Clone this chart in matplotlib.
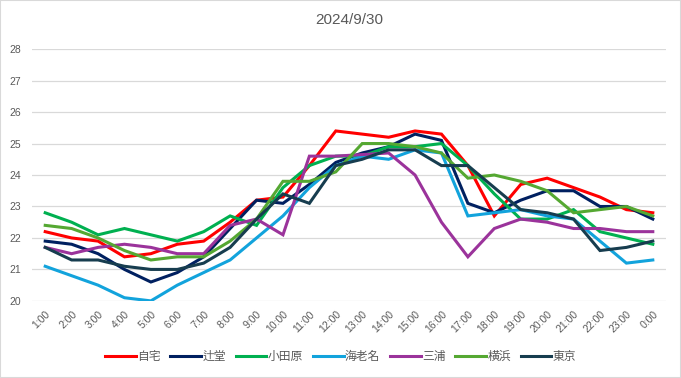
import matplotlib
matplotlib.use("Agg")
import matplotlib.pyplot as plt

plt.rcParams['font.family'] = ['Liberation Sans', 'Noto Sans CJK JP', 'DejaVu Sans']

hours = [f"{h}:00" for h in range(1, 24)] + ["0:00"]

jitaku   = [22.2, 22.0, 21.9, 21.4, 21.5, 21.8, 21.9, 22.5, 23.2, 23.3, 24.3, 25.4,
            25.3, 25.2, 25.4, 25.3, 24.3, 22.7, 23.7, 23.9, 23.6, 23.3, 22.9, 22.8]
tsujido  = [21.9, 21.8, 21.5, 21.0, 20.6, 20.9, 21.4, 22.3, 23.2, 23.1, 23.7, 24.4,
            24.7, 24.9, 25.3, 25.1, 23.1, 22.8, 23.2, 23.5, 23.5, 23.0, 23.0, 22.6]
odawara  = [22.8, 22.5, 22.1, 22.3, 22.1, 21.9, 22.2, 22.7, 22.4, 23.6, 24.3, 24.6,
            24.6, 24.9, 24.9, 25.0, 24.3, 23.4, 22.6, 22.6, 22.9, 22.2, 22.0, 21.8]
ebina    = [21.1, 20.8, 20.5, 20.1, 20.0, 20.5, 20.9, 21.3, 22.0, 22.7, 23.6, 24.3,
            24.6, 24.5, 24.8, 24.7, 22.7, 22.8, 22.9, 22.7, 22.6, 21.9, 21.2, 21.3]
miura    = [21.7, 21.5, 21.7, 21.8, 21.7, 21.5, 21.5, 22.4, 22.6, 22.1, 24.6, 24.6,
            24.65, 24.7, 24.0, 22.5, 21.4, 22.3, 22.6, 22.5, 22.3, 22.3, 22.2, 22.2]
yokohama = [22.4, 22.3, 22.0, 21.6, 21.3, 21.4, 21.4, 21.9, 22.6, 23.8, 23.8, 24.1,
            25.0, 25.0, 24.9, 24.7, 23.9, 24.0, 23.8, 23.5, 22.8, 22.9, 23.0, 22.7]
tokyo    = [21.7, 21.3, 21.3, 21.1, 21.0, 21.0, 21.2, 21.7, 22.6, 23.4, 23.1, 24.3,
            24.5, 24.8, 24.8, 24.3, 24.3, 23.6, 22.9, 22.8, 22.6, 21.6, 21.7, 21.9]

series = [
    ("自宅", jitaku, "#FF0000"),
    ("辻堂", tsujido, "#002060"),
    ("小田原", odawara, "#00B050"),
    ("海老名", ebina, "#12A3DC"),
    ("三浦", miura, "#9B339B"),
    ("横浜", yokohama, "#55A832"),
    ("東京", tokyo, "#173D4F"),
]

fig = plt.figure(figsize=(6.81, 3.78), dpi=100)
ax = fig.add_axes([0.047, 0.204, 0.931, 0.666])

x = list(range(len(hours)))
for name, vals, col in series:
    ax.plot(x, vals, color=col, linewidth=2.2, label=name, solid_joinstyle='miter')

ax.set_xlim(-0.5, len(hours) - 0.5)
ax.set_ylim(20, 28)
ax.set_yticks(range(20, 29))
ax.set_xticks(x)
ax.set_xticklabels(hours, rotation=45, ha='right', rotation_mode='anchor')
ax.grid(axis='y', color='#D9D9D9', linewidth=0.9)
ax.set_axisbelow(True)
for s in ax.spines.values():
    s.set_visible(False)
ax.tick_params(axis='both', length=0, labelsize=7.5, colors='#595959')
ax.tick_params(axis='x', pad=6)
ax.tick_params(axis='y', pad=8)

ax.set_title("2024/9/30", fontsize=11, color='#595959', pad=18)

fig.legend(loc='center', bbox_to_anchor=(0.5, 0.055), ncol=7, frameon=False,
           fontsize=8.5, handlelength=2.6, handletextpad=0.1, columnspacing=0.85,
           labelcolor='#595959')

fig.patches.append(plt.Rectangle((0, 0), 1, 1, transform=fig.transFigure,
                                 fill=False, edgecolor='#D9D9D9', linewidth=1.5))

fig.savefig("out.png", dpi=100)
